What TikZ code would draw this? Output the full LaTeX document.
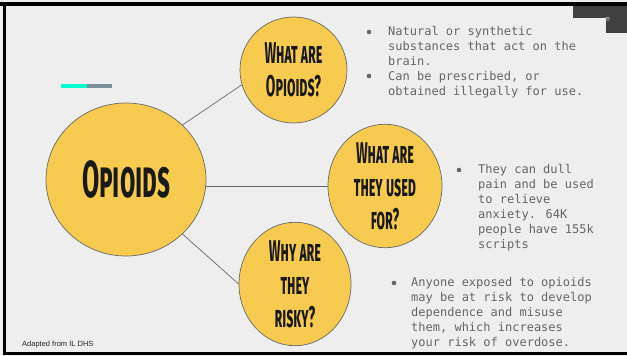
\documentclass[tikz,border=0pt]{standalone}
\usepackage{fontspec}
\usepackage{graphicx}
\usetikzlibrary{shapes.geometric}

\newfontfamily\monofont{DejaVu Sans Mono}
\newfontfamily\notefont{Liberation Sans}
\newfontfamily\iconfont{DejaVu Sans}
\newfontfamily\titlefont[Letters=SmallCaps]{Fira Sans}

\definecolor{slidebg}{HTML}{EEEEEE}
\definecolor{bubblefill}{HTML}{F6CB4F}
\definecolor{bubbleline}{HTML}{6A6A6A}
\definecolor{bodygray}{HTML}{666666}
\definecolor{accentteal}{HTML}{00FFCC}
\definecolor{accentslate}{HTML}{7A8F99}
\definecolor{cornerdark}{HTML}{404040}

% squeeze the heading letters
\newcommand{\narrow}[1]{\scalebox{0.46}[1]{#1}}

\tikzset{
  bubble/.style={ellipse, draw=bubbleline, line width=0.7pt, fill=bubblefill,
    inner sep=0pt, align=center, text=black!90,
    font=\titlefont\bfseries\fontsize{30}{33}\selectfont},
  link/.style={draw=bubbleline, line width=0.7pt},
  dot/.style={circle, fill=bodygray, inner sep=0pt, minimum size=4.6pt},
  bodytext/.style={anchor=north west, inner sep=0pt, align=left, text=bodygray,
    font=\monofont\fontsize{12}{15}\selectfont},
}

\begin{document}
\begin{tikzpicture}[x=1pt,y=-1pt]
  \useasboundingbox (0,0) rectangle (627,356);

  % slide and frame
  \fill[slidebg] (0,0) rectangle (627,356);
  \fill[black] (0,2) rectangle (627,5.5);
  \fill[black] (3,2) rectangle (6,355);
  \fill[black] (3,351.5) rectangle (627,354.5);
  \fill[cornerdark] (573,5.5) rectangle (627,18);
  \fill[cornerdark] (606,5.5) rectangle (627,33);
  \node[text=gray!40, font=\iconfont\fontsize{7}{7}\selectfont] (menu) at (607.5,20) {≡};

  % accent bar
  \fill[accentteal] (61,84) rectangle (87,88);
  \fill[accentslate] (87,84) rectangle (112,88);

  % bubbles
  \node[bubble, minimum width=160pt, minimum height=153pt,
    font=\titlefont\bfseries\fontsize{52}{52}\selectfont] (opioids) at (126,179.5)
    {\scalebox{0.48}[1]{Opioids}};
  \node[bubble, minimum width=107pt, minimum height=106pt] (whatare) at (293.5,70)
    {\narrow{What are}\\\narrow{Opioids?}};
  \node[bubble, minimum width=114pt, minimum height=102pt] (usedfor) at (385,186)
    {\narrow{What are}\\\narrow{they used}\\\narrow{for?}};
  \node[bubble, minimum width=112pt, minimum height=102pt] (risky) at (295,284)
    {\narrow{Why are}\\\narrow{they}\\\narrow{risky?}};

  \draw[link] (opioids.44) -- (whatare.196);
  \draw[link] (opioids.east |- usedfor.west) -- (usedfor.west);
  \draw[link] (opioids.-44) -- (risky.west);

  % bullet points
  \node[dot] (dota) at (369,32) {};
  \node[bodytext] (itema) at (388,26.4) {Natural or synthetic\\substances that act on the\\brain.};
  \node[dot] (dotb) at (369,76) {};
  \node[bodytext] (itemb) at (388,70.9) {Can be prescribed, or\\obtained illegally for use.};
  \node[dot] (dotc) at (459,170) {};
  \node[bodytext] (itemc) at (478,164.4) {They can dull\\pain and be used\\to relieve\\anxiety. 64K\\people have 155k\\scripts};
  \node[dot] (dotd) at (394,283) {};
  \node[bodytext] (itemd) at (411,277.4) {Anyone exposed to opioids\\may be at risk to develop\\dependence and misuse\\them, which increases\\your risk of overdose.};

  \node[anchor=west, inner sep=0pt, text=black!85, font=\notefont\fontsize{7.5}{9}\selectfont] (source) at (22,345) {Adapted from IL DHS};
\end{tikzpicture}
\end{document}
